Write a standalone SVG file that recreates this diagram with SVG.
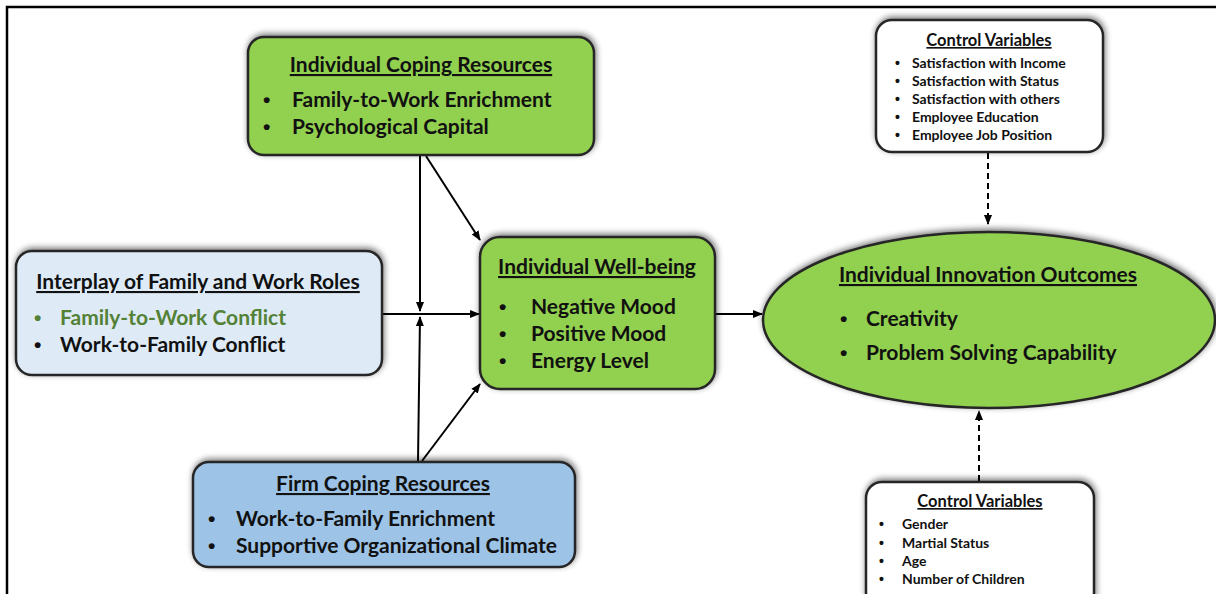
<svg xmlns="http://www.w3.org/2000/svg" width="1216" height="594" viewBox="0 0 1216 594">
  <defs>
    <filter id="shadow" x="-10%" y="-20%" width="120%" height="140%">
      <feGaussianBlur in="SourceAlpha" stdDeviation="3"/>
      <feOffset dx="1" dy="-2" result="b"/>
      <feComponentTransfer><feFuncA type="linear" slope="0.55"/></feComponentTransfer>
      <feMerge><feMergeNode/><feMergeNode in="SourceGraphic"/></feMerge>
    </filter>
    <marker id="arrow" viewBox="0 0 10 10" refX="9" refY="5" markerWidth="5" markerHeight="5" orient="auto-start-reverse" markerUnits="strokeWidth">
      <path d="M0,1 L10,5 L0,9 z" fill="#000"/>
    </marker>
  </defs>
  <style>
    .box { stroke: #262626; stroke-width: 2.5; filter: url(#shadow); }
    .green { fill: #92D050; }
    .lightblue { fill: #DEEBF7; }
    .blue { fill: #9DC3E6; }
    .white { fill: #FFFFFF; }
    text { font-family: Lato, "Open Sans", "Liberation Sans", sans-serif; font-weight: bold; fill: #111; }
    text.dot { font-family: "Liberation Sans", Arial, sans-serif; }
    .title { text-decoration: underline; text-anchor: middle; }
    .big { font-size: 21px; }
    .small { font-size: 14px; }
    .stitle { font-size: 16.5px; }
    .link { stroke: #000; stroke-width: 2; fill: none; marker-end: url(#arrow); }
    .dash { stroke-dasharray: 6 4; }
  </style>

  <!-- page frame -->
  <path d="M7,594 V7 H1216" fill="none" stroke="#000" stroke-width="2.5"/>

  <!-- connectors -->
  <g id="connectors">
    <line class="link" x1="420" y1="156" x2="420" y2="311"/>
    <line class="link" x1="426" y1="156" x2="480" y2="240"/>
    <line class="link" x1="383" y1="314" x2="479" y2="314"/>
    <line class="link" x1="418" y1="461" x2="420" y2="317"/>
    <line class="link" x1="422" y1="461" x2="480" y2="384"/>
    <line class="link" x1="716" y1="314" x2="762" y2="314"/>
    <line class="link dash" x1="988" y1="153" x2="988" y2="224"/>
    <line class="link dash" x1="979" y1="481" x2="979" y2="411"/>
  </g>

  <g id="individual-coping">
    <rect class="box green" x="248" y="37" width="346" height="118" rx="16"/>
    <text class="big title" x="421" y="72">Individual Coping Resources</text>
    <text class="big dot" x="263" y="107">•</text>
    <text class="big" x="292" y="107">Family-to-Work Enrichment</text>
    <text class="big dot" x="263" y="134">•</text>
    <text class="big" x="292" y="134">Psychological Capital</text>
  </g>

  <g id="interplay">
    <rect class="box lightblue" x="16" y="251" width="366" height="124" rx="16"/>
    <text class="big title" x="198" y="289">Interplay of Family and Work Roles</text>
    <text class="big dot" x="34" y="325" style="fill:#538135">•</text>
    <text class="big" x="60" y="325" style="fill:#538135">Family-to-Work Conflict</text>
    <text class="big dot" x="34" y="352">•</text>
    <text class="big" x="60" y="352">Work-to-Family Conflict</text>
  </g>

  <g id="well-being">
    <rect class="box green" x="480" y="237" width="235" height="152" rx="20"/>
    <text class="big title" x="597" y="274">Individual Well-being</text>
    <text class="big dot" x="499" y="314">•</text>
    <text class="big" x="531" y="314">Negative Mood</text>
    <text class="big dot" x="499" y="341">•</text>
    <text class="big" x="531" y="341">Positive Mood</text>
    <text class="big dot" x="499" y="368">•</text>
    <text class="big" x="531" y="368">Energy Level</text>
  </g>

  <g id="innovation-outcomes">
    <ellipse class="box green" cx="989" cy="320" rx="226" ry="88"/>
    <text class="big title" x="988" y="282">Individual Innovation Outcomes</text>
    <text class="big dot" x="840" y="326">•</text>
    <text class="big" x="866" y="326">Creativity</text>
    <text class="big dot" x="840" y="360">•</text>
    <text class="big" x="866" y="360">Problem Solving Capability</text>
  </g>

  <g id="control-top">
    <rect class="box white" x="876" y="20" width="227" height="132" rx="16"/>
    <text class="stitle title" x="989" y="46">Control Variables</text>
    <text class="small dot" x="895" y="68">•</text>
    <text class="small" x="912" y="68">Satisfaction with Income</text>
    <text class="small dot" x="895" y="86">•</text>
    <text class="small" x="912" y="86">Satisfaction with Status</text>
    <text class="small dot" x="895" y="104">•</text>
    <text class="small" x="912" y="104">Satisfaction with others</text>
    <text class="small dot" x="895" y="122">•</text>
    <text class="small" x="912" y="122">Employee Education</text>
    <text class="small dot" x="895" y="140">•</text>
    <text class="small" x="912" y="140">Employee Job Position</text>
  </g>

  <g id="control-bottom">
    <rect class="box white" x="866" y="482" width="228" height="130" rx="16"/>
    <text class="stitle title" x="980" y="507">Control Variables</text>
    <text class="small dot" x="879" y="529">•</text>
    <text class="small" x="902" y="529">Gender</text>
    <text class="small dot" x="879" y="548">•</text>
    <text class="small" x="902" y="548">Martial Status</text>
    <text class="small dot" x="879" y="566">•</text>
    <text class="small" x="902" y="566">Age</text>
    <text class="small dot" x="879" y="584">•</text>
    <text class="small" x="902" y="584">Number of Children</text>
  </g>

  <g id="firm-coping">
    <rect class="box blue" x="193" y="462" width="382" height="105" rx="16"/>
    <text class="big title" x="383" y="491">Firm Coping Resources</text>
    <text class="big dot" x="208" y="526">•</text>
    <text class="big" x="236" y="526">Work-to-Family Enrichment</text>
    <text class="big dot" x="208" y="553">•</text>
    <text class="big" x="236" y="553">Supportive Organizational Climate</text>
  </g>
</svg>
